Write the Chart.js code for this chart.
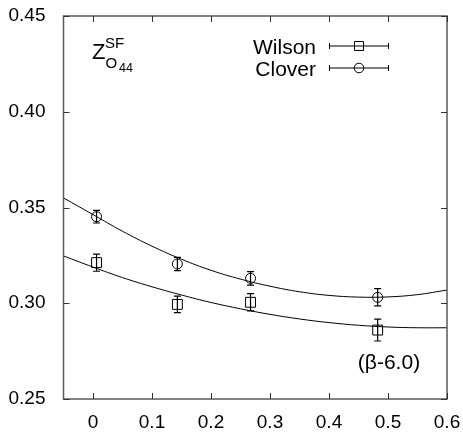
<!DOCTYPE html>
<html>
<head>
<meta charset="utf-8">
<script src="https://cdn.jsdelivr.net/npm/chart.js@4/dist/chart.umd.min.js"></script>
<style>
	html, body { margin: 0; padding: 0; background: #fff; }
	#wrap { width: 463px; height: 433px; }
</style>
</head>
<body>
<div id="wrap"><canvas id="chart-canvas" width="463" height="433"></canvas></div>
<script>
// data
const x_points = [0.006, 0.143, 0.267, 0.4825]
const wilson_values = [0.3212, 0.2994, 0.3005, 0.2860]
const wilson_errors = [0.0045, 0.0043, 0.0045, 0.0057]
const clover_values = [0.3452, 0.3205, 0.3130, 0.3031]
const clover_errors = [0.0033, 0.0035, 0.0035, 0.0045]

// fit curves, read every 0.05
const fit_x = [-0.05, 0, 0.05, 0.1, 0.15, 0.2, 0.25, 0.3, 0.35, 0.4, 0.45, 0.5, 0.55, 0.6]
const wilson_fit = [0.3247, 0.3189, 0.3134, 0.3086, 0.3043, 0.3004, 0.2971, 0.2942, 0.2918, 0.2899, 0.2885, 0.2876, 0.2872, 0.2872]
const clover_fit = [0.3550, 0.3463, 0.3376, 0.3298, 0.3230, 0.3172, 0.3126, 0.3089, 0.3060, 0.3041, 0.3032, 0.3033, 0.3045, 0.3069]

const x_ticks = [0, 0.1, 0.2, 0.3, 0.4, 0.5, 0.6]
const y_ticks = [0.25, 0.30, 0.35, 0.40, 0.45]

const font_family = '"Liberation Sans", Arial, Helvetica, sans-serif'

function to_points(xs, ys) {
	return xs.map((x, i) => ({x: x, y: ys[i]}))
}

function draw_symbol(ctx, style, x, y) {
	ctx.beginPath()
	if (style == 'rect') {
		ctx.rect(x - 4.5, y - 4.5, 9, 9)
	} else {
		ctx.arc(x, y, 4.8, 0, Math.PI * 2)
	}
	ctx.stroke()
}

function zero_padding(scale) {
	scale.paddingTop = 0
	scale.paddingBottom = 0
	scale.paddingLeft = 0
	scale.paddingRight = 0
}

const frame_plugin = {
	id: 'frame',
	afterDatasetsDraw(chart) {
		let ctx = chart.ctx
		let area = chart.chartArea
		let xs = chart.scales.x
		let ys = chart.scales.y
		ctx.save()

		// error bars
		ctx.strokeStyle = '#000'
		ctx.lineWidth = 1.2
		let sets = [[wilson_values, wilson_errors], [clover_values, clover_errors]]
		for (let s = 0; s < sets.length; s ++) {
			for (let i = 0; i < x_points.length; i ++) {
				let px = xs.getPixelForValue(x_points[i])
				let top = ys.getPixelForValue(sets[s][0][i] + sets[s][1][i])
				let bottom = ys.getPixelForValue(sets[s][0][i] - sets[s][1][i])
				ctx.beginPath()
				ctx.moveTo(px, top)
				ctx.lineTo(px, bottom)
				ctx.moveTo(px - 3.5, top)
				ctx.lineTo(px + 3.5, top)
				ctx.moveTo(px - 3.5, bottom)
				ctx.lineTo(px + 3.5, bottom)
				ctx.stroke()
			}
		}

		// frame
		ctx.strokeStyle = '#5a5a5a'
		ctx.lineWidth = 1.5
		ctx.strokeRect(area.left, area.top, area.right - area.left, area.bottom - area.top)

		// inward ticks on all four sides
		ctx.strokeStyle = '#333'
		ctx.lineWidth = 1
		ctx.beginPath()
		for (let i = 0; i < x_ticks.length; i ++) {
			let px = Math.round(xs.getPixelForValue(x_ticks[i])) + 0.5
			ctx.moveTo(px, area.bottom)
			ctx.lineTo(px, area.bottom - 6)
			ctx.moveTo(px, area.top)
			ctx.lineTo(px, area.top + 6)
		}
		for (let i = 0; i < y_ticks.length; i ++) {
			let py = Math.round(ys.getPixelForValue(y_ticks[i])) + 0.5
			ctx.moveTo(area.left, py)
			ctx.lineTo(area.left + 6, py)
			ctx.moveTo(area.right, py)
			ctx.lineTo(area.right - 6, py)
		}
		ctx.stroke()

		// legend
		let legend = [['Wilson', 'rect', 46], ['Clover', 'circle', 68]]
		ctx.fillStyle = '#000'
		ctx.strokeStyle = '#000'
		ctx.font = '21px ' + font_family
		ctx.textAlign = 'right'
		ctx.textBaseline = 'alphabetic'
		for (let i = 0; i < legend.length; i ++) {
			let y = legend[i][2]
			ctx.fillText(legend[i][0], 316, y + 7.5)
			ctx.lineWidth = 1
			ctx.beginPath()
			ctx.moveTo(329, y)
			ctx.lineTo(389, y)
			ctx.moveTo(329.5, y - 3)
			ctx.lineTo(329.5, y + 3)
			ctx.moveTo(388.5, y - 3)
			ctx.lineTo(388.5, y + 3)
			ctx.stroke()
			draw_symbol(ctx, legend[i][1], 359, y)
		}

		// Z^SF_{O44} label
		ctx.textAlign = 'left'
		ctx.font = '22px ' + font_family
		ctx.fillText('Z', 92, 59)
		ctx.font = '15px ' + font_family
		ctx.fillText('SF', 105, 48)
		ctx.fillText('O', 105.5, 68)
		ctx.font = '12.5px ' + font_family
		ctx.fillText('44', 119, 72)

		// (β-6.0) label
		ctx.font = '21px ' + font_family
		ctx.textAlign = 'center'
		ctx.textBaseline = 'middle'
		ctx.fillText('(β-6.0)', 389, 363)
		ctx.restore()
	}
}

new Chart(document.getElementById('chart-canvas'), {
	type: 'scatter',
	data: {
		datasets: [
			{
				label: 'Wilson',
				data: to_points(x_points, wilson_values),
				pointStyle: 'rect',
				pointRadius: 7,
				borderColor: '#000',
				backgroundColor: 'rgba(0,0,0,0)',
				borderWidth: 1
			},
			{
				label: 'Clover',
				data: to_points(x_points, clover_values),
				pointStyle: 'circle',
				pointRadius: 5,
				borderColor: '#000',
				backgroundColor: 'rgba(0,0,0,0)',
				borderWidth: 1
			},
			{
				label: 'Wilson fit',
				data: to_points(fit_x, wilson_fit),
				showLine: true,
				pointRadius: 0,
				borderColor: '#000',
				borderWidth: 1,
				tension: 0.4
			},
			{
				label: 'Clover fit',
				data: to_points(fit_x, clover_fit),
				showLine: true,
				pointRadius: 0,
				borderColor: '#000',
				borderWidth: 1,
				tension: 0.4
			}
		]
	},
	options: {
		responsive: false,
		animation: false,
		devicePixelRatio: 1,
		layout: {
			padding: {top: 16, right: 16, left: 0, bottom: 0}
		},
		plugins: {
			legend: {display: false},
			tooltip: {enabled: false}
		},
		scales: {
			x: {
				type: 'linear',
				min: -0.05,
				max: 0.6,
				grid: {display: false, drawTicks: false},
				border: {display: false},
				afterBuildTicks: (scale) => {
					scale.ticks = x_ticks.map(v => ({value: v}))
				},
				afterFit: (scale) => {
					scale.height = 34
					zero_padding(scale)
				},
				ticks: {
					padding: 12,
					color: '#000',
					maxRotation: 0,
					font: {family: font_family, size: 19},
					callback: (value) => String(Math.round(value * 10) / 10)
				}
			},
			y: {
				type: 'linear',
				min: 0.25,
				max: 0.45,
				grid: {display: false, drawTicks: false},
				border: {display: false},
				afterBuildTicks: (scale) => {
					scale.ticks = y_ticks.map(v => ({value: v}))
				},
				afterFit: (scale) => {
					scale.width = 63.5
					zero_padding(scale)
				},
				ticks: {
					padding: 18,
					color: '#000',
					font: {family: font_family, size: 19},
					callback: (value) => value.toFixed(2)
				}
			}
		}
	},
	plugins: [frame_plugin]
})
</script>
</body>
</html>
